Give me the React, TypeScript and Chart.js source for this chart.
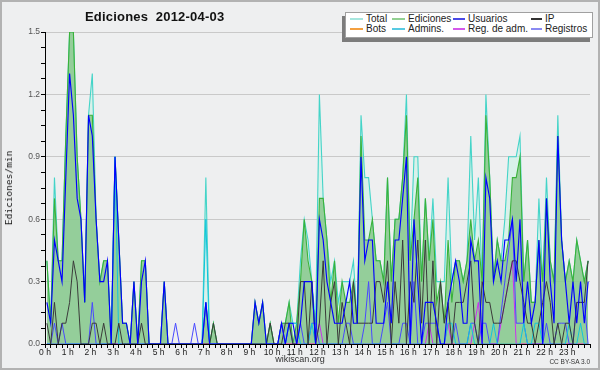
import React, { useEffect, useRef } from "react";
import { Chart, registerables } from "chart.js";

Chart.register(...registerables);

// ---- data (values per 10 minutes, expressed as edits/min) ----
const SLOTS_PER_HOUR = 6;
const HOUR_LABELS = Array.from({ length: 24 }, (_, h) => `${h} h`);

const TOTAL = [
  0.4, 0.1, 0.8, 0.4, 0.4, 1.0,
  1.5, 1.5, 0.9, 0.6, 0.2, 1.1,
  1.3, 0.6, 0.3, 0.4, 0.4, 0,
  0.9, 0.5, 0.1, 0.1, 0, 0.3,
  0, 0.4, 0.4, 0, 0, 0,
  0, 0.3, 0, 0, 0, 0,
  0, 0, 0, 0, 0, 0,
  0.8, 0, 0.1, 0, 0, 0,
  0, 0, 0, 0, 0, 0,
  0, 0.2, 0.1, 0.2, 0, 0.1,
  0, 0, 0.1, 0.1, 0.2, 0.1,
  0.1, 0.4, 0.6, 0.5, 0.3, 0.1,
  1.2, 0.7, 0.5, 0.3, 0.4, 0.2,
  0.3, 0.3, 0.3, 0.4, 0.1, 1.1,
  0.8, 0.8, 0.6, 0.4, 0.4, 0.3,
  0.8, 0.3, 0.6, 0.6, 0.8, 1.2,
  0.4, 0.9, 0.9, 0.3, 0.7, 0.4,
  0.7, 0.3, 0.3, 0.3, 0.8, 0.3,
  0.4, 0.4, 0.3, 0.4, 1.0, 0.5,
  0.8, 0.3, 1.2, 0.8, 0.3, 0.5,
  0.4, 0.6, 0.9, 0.9, 0.9, 1.0,
  0.3, 0.5, 0.2, 0.2, 0.7, 0.3,
  0.8, 0.4, 0.3, 1.1, 0.5, 0.3,
  0.4, 0.3, 0.5, 0.4, 0.3, 0.4,
];

const EDICIONES = [
  0.4, 0.1, 0.7, 0.4, 0.4, 1.0,
  1.5, 1.5, 0.9, 0.6, 0.2, 1.1,
  1.1, 0.6, 0.3, 0.4, 0.4, 0,
  0.9, 0.5, 0.1, 0.1, 0, 0.3,
  0, 0.4, 0.4, 0, 0, 0,
  0, 0.3, 0, 0, 0, 0,
  0, 0, 0, 0, 0, 0,
  0.2, 0, 0.1, 0, 0, 0,
  0, 0, 0, 0, 0, 0,
  0, 0.2, 0.1, 0.2, 0, 0.1,
  0, 0, 0.1, 0.1, 0.2, 0,
  0.1, 0.3, 0.6, 0.4, 0.3, 0,
  0.7, 0.7, 0.5, 0.2, 0.4, 0.1,
  0.3, 0.2, 0.2, 0.3, 0.1, 1.0,
  0.5, 0.5, 0.6, 0.4, 0.4, 0.3,
  0.8, 0.3, 0.6, 0.6, 0.8, 1.1,
  0.4, 0.6, 0.8, 0.3, 0.7, 0.4,
  0.6, 0.2, 0.3, 0.1, 0.5, 0.2,
  0.4, 0.4, 0.3, 0.4, 0.6, 0.4,
  0.5, 0.3, 1.1, 0.8, 0.3, 0.5,
  0.4, 0.4, 0.5, 0.8, 0.8, 0.9,
  0.3, 0.5, 0.2, 0.2, 0.5, 0.3,
  0.7, 0.4, 0.3, 1.0, 0.5, 0.3,
  0.4, 0.3, 0.5, 0.4, 0.3, 0.4,
];

const USUARIOS = [
  0.2, 0.1, 0.5, 0.4, 0.3, 0.8,
  1.3, 1.1, 0.7, 0.6, 0.2, 1.1,
  1.0, 0.6, 0.3, 0.3, 0.4, 0,
  0.9, 0.5, 0.1, 0.1, 0, 0.3,
  0, 0.3, 0.4, 0, 0, 0,
  0, 0.3, 0, 0, 0, 0,
  0, 0, 0, 0, 0, 0,
  0.2, 0, 0, 0, 0, 0,
  0, 0, 0, 0, 0, 0,
  0, 0.2, 0.1, 0.2, 0, 0,
  0, 0, 0.1, 0, 0.1, 0.1,
  0, 0.1, 0.3, 0.3, 0.3, 0,
  0.6, 0.5, 0.3, 0.2, 0.1, 0.1,
  0.1, 0.2, 0.3, 0.1, 0.1, 0.9,
  0.4, 0.5, 0.5, 0.1, 0.1, 0.1,
  0.3, 0.1, 0.5, 0.5, 0.7, 0.9,
  0, 0.6, 0.3, 0, 0.2, 0.2,
  0.2, 0.1, 0, 0, 0.2, 0.3,
  0.4, 0.3, 0.1, 0.1, 0.5, 0.4,
  0.4, 0, 0.8, 0.7, 0.3, 0.4,
  0.3, 0.5, 0.5, 0.6, 0.3, 0.6,
  0.1, 0.3, 0.1, 0.2, 0.5, 0,
  0.7, 0.3, 0.1, 1.0, 0.5, 0.3,
  0.1, 0.3, 0.1, 0.3, 0.1, 0.3,
];

const IP = [
  0.1, 0, 0.2, 0, 0.1, 0.1,
  0.2, 0.4, 0.3, 0, 0, 0,
  0.1, 0.1, 0, 0.1, 0, 0,
  0, 0.1, 0, 0, 0, 0,
  0, 0.1, 0, 0, 0, 0,
  0, 0, 0, 0, 0, 0,
  0, 0, 0, 0, 0, 0,
  0, 0, 0.1, 0, 0, 0,
  0, 0, 0, 0, 0, 0,
  0, 0, 0, 0, 0, 0.1,
  0, 0, 0, 0.1, 0.1, 0,
  0, 0.3, 0.3, 0, 0.3, 0,
  0.1, 0.4, 0, 0.2, 0.3, 0,
  0.2, 0.1, 0, 0.3, 0.1, 0.1,
  0.1, 0.1, 0.1, 0.3, 0.3, 0.2,
  0.4, 0, 0.3, 0.1, 0.5, 0,
  0.3, 0.2, 0.5, 0.1, 0.5, 0,
  0.4, 0, 0.3, 0.1, 0.2, 0,
  0.2, 0.2, 0.2, 0.3, 0.4, 0.1,
  0, 0.3, 0.2, 0.2, 0.1, 0.1,
  0.1, 0.2, 0.3, 0.4, 0.4, 0.3,
  0.2, 0.1, 0.1, 0, 0.1, 0.2,
  0.3, 0.2, 0, 0.1, 0, 0.1,
  0.1, 0, 0.2, 0.2, 0.2, 0.4,
];

const BOTS = Array(144).fill(0);

const ADMINS = [
  0, 0, 0, 0, 0, 0,
  0, 0, 0, 0, 0, 0,
  0, 0, 0, 0, 0, 0,
  0.9, 0, 0, 0, 0, 0,
  0, 0, 0, 0, 0, 0,
  0, 0, 0, 0, 0, 0,
  0, 0, 0, 0, 0, 0,
  0.6, 0, 0, 0, 0, 0,
  0, 0, 0, 0, 0, 0,
  0, 0, 0, 0, 0, 0,
  0, 0, 0, 0, 0.1, 0.1,
  0.1, 0, 0, 0, 0.1, 0,
  0, 0, 0, 0, 0, 0,
  0, 0, 0, 0, 0, 0,
  0, 0, 0, 0, 0, 0,
  0, 0, 0, 0, 0, 0,
  0, 0, 0, 0, 0, 0,
  0, 0, 0, 0, 0.1, 0.1,
  0, 0, 0, 0, 0.1, 0,
  0, 0, 0, 0, 0.1, 0,
  0, 0, 0, 0, 0, 0,
  0.1, 0, 0, 0.1, 0.1, 0,
  0, 0, 0, 0, 0, 0,
  0.1, 0, 0, 0.1, 0, 0,
];

const REG_ADM = [
  0, 0, 0, 0, 0, 0,
  0, 0, 0, 0, 0, 0,
  0, 0, 0, 0, 0, 0,
  0, 0, 0, 0, 0, 0,
  0, 0, 0, 0, 0, 0,
  0, 0, 0, 0, 0, 0,
  0, 0, 0, 0, 0, 0,
  0, 0, 0, 0, 0, 0,
  0, 0, 0, 0, 0, 0,
  0, 0, 0, 0, 0, 0,
  0, 0, 0, 0, 0, 0,
  0, 0, 0, 0, 0, 0,
  0.1, 0, 0, 0, 0, 0,
  0, 0, 0, 0, 0, 0,
  0, 0, 0, 0, 0, 0,
  0, 0, 0, 0, 0, 0,
  0, 0, 0, 0, 0, 0.1,
  0, 0, 0, 0, 0.1, 0,
  0, 0, 0, 0, 0, null,
  0.2, 0, 0, 0, 0, 0,
  null, null, null, 0.4, 0, 0,
  0, 0, 0, 0, 0, 0,
  0, 0, 0, 0, 0, 0,
  0, 0, 0, 0, 0, 0,
];

const REGISTROS = [
  0, 0, 0.1, 0, 0.1, 0,
  0, 0, 0, 0, 0, 0,
  0.2, 0, 0, 0, 0, 0,
  0, 0, 0, 0, 0, 0,
  0, 0, 0, 0, 0, 0,
  0, 0, 0, 0, 0.1, 0,
  0, 0, 0, 0.1, 0, 0,
  0.2, 0, 0, 0, 0, 0,
  0, 0, 0, 0, 0, 0,
  0, 0, 0, 0, 0, 0,
  0, 0, 0.1, 0, 0.1, 0,
  0, 0.1, 0, 0, 0.1, 0.1,
  0, 0, 0, 0, 0, 0,
  0, 0.1, 0.1, 0, 0, 0,
  0.1, 0.3, 0, 0, 0, 0.1,
  0.2, 0, 0, 0, 0.1, 0.1,
  0, 0.3, 0, 0, 0.1, 0.1,
  0.1, 0.1, 0, 0, 0, 0,
  0.1, 0, 0, 0, 0.1, 0.1,
  0, 0.1, 0.1, 0, 0, 0,
  null, null, null, 0.6, 0.1, 0.1,
  0.1, 0, 0, 0, 0, 0,
  0.1, 0, 0, 0.1, 0.1, 0.1,
  0, 0, 0.2, 0.2, 0.2, 0,
];

const Y_TICKS = [0, 0.3, 0.6, 0.9, 1.2, 1.5];

const LEGEND = [
  { label: "Total", color: "#a6e6de" },
  { label: "Ediciones", color: "#92d092" },
  { label: "Usuarios", color: "#4a4ae6" },
  { label: "IP", color: "#333333" },
  { label: "Bots", color: "#f4a040" },
  { label: "Admins.", color: "#58cae2" },
  { label: "Reg. de adm.", color: "#d458ea" },
  { label: "Registros", color: "#8a8af2" },
];

const toPoints = (vals: (number | null)[]) =>
  vals.map((v, i) => ({ x: (i + 0.5) / SLOTS_PER_HOUR, y: v }));

const isMajor = (v: number) => Y_TICKS.some((t) => Math.abs(t - v) < 1e-6);

const axisOverlay = {
  id: "axisOverlay",
  afterDatasetsDraw(chart: any) {
    const { ctx, chartArea } = chart;
    const l = Math.round(chartArea.left) + 0.5;
    const b = Math.round(chartArea.bottom) + 0.5;
    ctx.save();
    ctx.strokeStyle = "#000";
    ctx.lineWidth = 1;
    ctx.beginPath();
    ctx.moveTo(l, chartArea.top);
    ctx.lineTo(l, b);
    ctx.lineTo(chartArea.right, b);
    ctx.stroke();
    ctx.restore();
  },
};

export default function App() {
  const ref = useRef<HTMLCanvasElement | null>(null);

  useEffect(() => {
    document.body.style.margin = "0";
    if (!ref.current) return;
    Chart.defaults.font.family = "'Liberation Sans', Arial, sans-serif";
    const line = (label: string, data: any[], color: string, order: number, extra: any = {}) => ({
      label,
      data: toPoints(data),
      borderColor: color,
      borderWidth: 1,
      pointRadius: 0,
      tension: 0,
      fill: false,
      order,
      ...extra,
    });
    const chart = new Chart(ref.current, {
      type: "line",
      data: {
        datasets: [
          line("Total", TOTAL, "#44d4c8", 9, { fill: "origin", backgroundColor: "rgba(204,242,230,0.6)", borderWidth: 1.1 }),
          line("Ediciones", EDICIONES, "#3ab23a", 8, { fill: "origin", backgroundColor: "rgba(120,192,120,0.7)", borderWidth: 1.1 }),
          line("Bots", BOTS, "#f4a040", 7),
          line("Reg. de adm.", REG_ADM, "#cc30ee", 6, { spanGaps: true }),
          line("Registros", REGISTROS, "#4848ff", 5, { spanGaps: true }),
          line("Admins.", ADMINS, "#10c4dc", 4),
          line("IP", IP, "#3a3a3a", 3),
          line("Usuarios", USUARIOS, "#0000ff", 2, { borderWidth: 1.15 }),
        ],
      },
      options: {
        responsive: false,
        animation: false,
        devicePixelRatio: 1,
        layout: { padding: { left: 0, top: 32, right: 10, bottom: 0 } },
        plugins: { legend: { display: false }, tooltip: { enabled: false }, title: { display: false } },
        scales: {
          x: {
            type: "linear",
            min: 0,
            max: 24,
            afterFit: (s: any) => {
              s.height = 26;
            },
            ticks: {
              stepSize: 0.25,
              autoSkip: false,
              maxRotation: 0,
              maxTicksLimit: 200,
              padding: 0,
              color: "#222",
              font: { size: 8.5 },
              callback: (v: any) => (Number.isInteger(v) && v < 24 ? HOUR_LABELS[v] : ""),
            },
            grid: { drawOnChartArea: false, tickLength: 4, tickColor: "#000" },
            border: { color: "#000" },
          },
          y: {
            min: 0,
            max: 1.5,
            afterFit: (s: any) => {
              s.width = 45;
            },
            ticks: {
              stepSize: 0.075,
              autoSkip: false,
              maxTicksLimit: 100,
              padding: 1,
              color: "#555",
              font: { size: 8.5 },
              callback: (v: any) => (isMajor(v) ? Number(v).toFixed(1) : ""),
            },
            grid: {
              tickLength: 4,
              tickColor: "#000",
              color: (c: any) => (c.tick && isMajor(c.tick.value) ? "#c9c9c9" : "rgba(0,0,0,0)"),
            },
            border: { color: "#000" },
          },
        },
      },
      plugins: [axisOverlay],
    });
    return () => chart.destroy();
  }, []);

  const legendCols = [350, 392, 453, 531];
  const textCols = [366, 408, 468, 545];

  return (
    <div
      style={{
        position: "relative",
        width: 600,
        height: 370,
        background: "#eeeff0",
        fontFamily: "'Liberation Sans', Arial, sans-serif",
        overflow: "hidden",
      }}
    >
      <canvas ref={ref} width={600} height={370} style={{ position: "absolute", left: 0, top: 0, width: 600, height: 370 }} />
      <div
        style={{
          position: "absolute",
          left: 85,
          top: 10,
          fontSize: 13,
          lineHeight: "13px",
          fontWeight: "bold",
          color: "#111",
          whiteSpace: "pre",
          letterSpacing: 0.2,
        }}
      >
        {"Ediciones  2012-04-03"}
      </div>
      <div
        style={{
          position: "absolute",
          left: 9,
          top: 188,
          transform: "translate(-50%,-50%) rotate(-90deg)",
          fontFamily: "'DejaVu Sans Mono', monospace",
          fontSize: 9.5,
          lineHeight: "10px",
          color: "#111",
          whiteSpace: "nowrap",
        }}
      >
        Ediciones/min
      </div>
      {/* legend */}
      <div style={{ position: "absolute", left: 342, top: 16, width: 248, height: 26, background: "#7c7c7c" }} />
      <div
        style={{
          position: "absolute",
          left: 345,
          top: 12,
          width: 248,
          height: 26,
          background: "#ffffff",
          border: "1px solid #a0a0a0",
          boxSizing: "border-box",
        }}
      />
      {LEGEND.map((item, k) => {
        const col = k % 4;
        const row = Math.floor(k / 4);
        const top = 14 + row * 10;
        return (
          <React.Fragment key={item.label}>
            <div
              style={{
                position: "absolute",
                left: legendCols[col],
                top: top + 4,
                width: textCols[col] - legendCols[col] - 3,
                height: 1.5,
                background: item.color,
              }}
            />
            <div
              style={{
                position: "absolute",
                left: textCols[col],
                top,
                fontSize: 10,
                lineHeight: "10px",
                color: "#222",
                whiteSpace: "nowrap",
              }}
            >
              {item.label}
            </div>
          </React.Fragment>
        );
      })}
      <div
        style={{
          position: "absolute",
          left: 300,
          top: 355,
          transform: "translateX(-50%)",
          fontSize: 9,
          lineHeight: "9px",
          color: "#333",
          whiteSpace: "nowrap",
        }}
      >
        wikiscan.org
      </div>
      <div
        style={{
          position: "absolute",
          right: 10,
          top: 358,
          fontSize: 6.5,
          lineHeight: "7px",
          color: "#333",
          whiteSpace: "nowrap",
        }}
      >
        CC BY-SA 3.0
      </div>
      <div
        style={{
          position: "absolute",
          left: 0,
          top: 0,
          width: 600,
          height: 370,
          border: "2px solid #b2b2b2",
          boxSizing: "border-box",
          pointerEvents: "none",
        }}
      />
    </div>
  );
}
